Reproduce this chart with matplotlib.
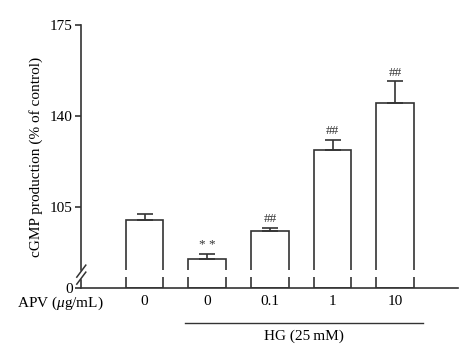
import matplotlib
matplotlib.use("Agg")
import matplotlib.pyplot as plt

# bar data (% of control)
apv_labels = ["0", "0", "0.1", "1", "10"]
cgmp_mean = [100.0, 84.7, 95.7, 126.9, 144.8]
cgmp_sem = [2.1, 2.0, 1.2, 3.8, 8.5]
sig_marks = ["", "* *", "##", "##", "##"]
y_ticks = [105, 140, 175]

# the axis is broken: the bottom of the axis is labelled "0"
y_floor = 73.6
y_top = 175
break_lo, break_hi = 77.7, 80.4

plt.rcParams["font.family"] = ["Liberation Serif", "DejaVu Serif"]
plt.rcParams["mathtext.fontset"] = "custom"
plt.rcParams["mathtext.it"] = "Liberation Serif:italic"

fig = plt.figure(figsize=(4.74, 3.63), dpi=100)
ax = fig.add_axes([0.1715, 0.2066, 0.7945, 0.7245])

x = list(range(len(cgmp_mean)))
ink = "#333333"
ax.bar(x, [m - y_floor for m in cgmp_mean], bottom=y_floor, width=0.6,
       color="white", edgecolor=ink, linewidth=1.2, zorder=2)
ax.errorbar(x, cgmp_mean, yerr=[[0] * len(cgmp_sem), cgmp_sem], fmt="none",
            ecolor=ink, elinewidth=1.2, capsize=5.5, capthick=1.2, zorder=3)

# white band cuts the bar edges at the axis break
ax.bar(x, break_hi - break_lo, bottom=break_lo, width=0.66, color="white",
       linewidth=0, zorder=4)

for xi, m, s, lab in zip(x, cgmp_mean, cgmp_sem, sig_marks):
    if lab:
        ax.text(xi, m + s + 1.0, lab, ha="center", va="bottom", fontsize=9.5,
                color=ink)

ax.set_xlim(-1.01, 5.0)
ax.set_ylim(y_floor, y_top)
ax.set_yticks([y_floor] + y_ticks)
ax.set_yticklabels(["0"] + [str(t) for t in y_ticks], fontsize=11)
ax.set_xticks(x)
ax.set_xticklabels(apv_labels, fontsize=11)
ax.tick_params(axis="x", length=0, pad=5, colors="black")
ax.tick_params(axis="y", length=4, width=1.2, color=ink, pad=2)
for side in ["top", "right"]:
    ax.spines[side].set_visible(False)
for side in ["left", "bottom"]:
    ax.spines[side].set_linewidth(1.2)
    ax.spines[side].set_color(ink)

ax.set_ylabel("cGMP production (% of control)", fontsize=11, labelpad=5)

# break marks on the y axis
fy = lambda v: (v - y_floor) / (y_top - y_floor)
ax.plot([0, 0], [fy(77.9), fy(79.6)], color="white", lw=2.5,
        transform=ax.transAxes, clip_on=False, zorder=5)
dx, dy = 4.5 / 376.7, 6 / 263.0
for yc in [fy(77.4), fy(80.1)]:
    ax.plot([-dx, dx], [yc - dy, yc + dy], color=ink, lw=1.1,
            transform=ax.transAxes, clip_on=False, zorder=6)

fig.text(17 / 474, 1 - 303.5 / 363, r"APV ($\mu$g/mL)", fontsize=11,
         ha="left", va="center")

# HG bracket under the treated groups
tr = ax.get_xaxis_transform()
ax.plot([0.647, 4.45], [-0.132, -0.132], color=ink, lw=1.0, transform=tr,
        clip_on=False)
ax.text(2.55, -0.185, "HG (25\u2009mM)", fontsize=11, ha="center", va="center",
        transform=tr)

fig.savefig("out.png", dpi=100)
